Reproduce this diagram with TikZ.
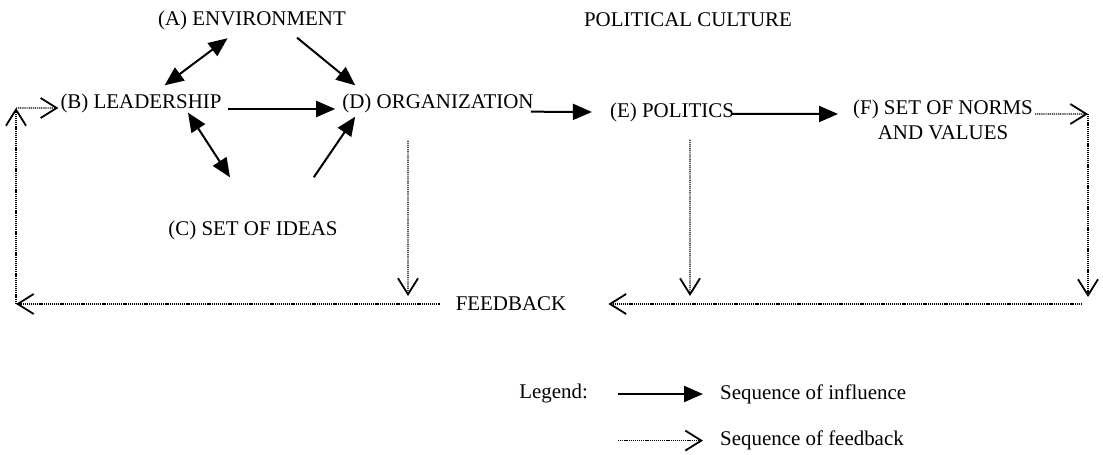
\documentclass[tikz,border=0pt]{standalone}
\usepackage{fontspec}
\setmainfont{Liberation Serif}
\usepackage{tikz}
\usetikzlibrary{arrows.meta,positioning}

\begin{document}
\begin{tikzpicture}[
	x=1bp, y=-1bp,
	font=\fontsize{21}{25}\selectfont,
	>={Triangle[length=19bp,width=16bp]},
	txt/.style={inner sep=2bp, align=center},
	infl/.style={->, line width=2bp},
	fb/.style={-{Straight Barb[length=16bp,width=20bp,line width=1.8bp]}, line width=1.3bp, dash pattern=on 1.2bp off 0.9bp},
]
\useasboundingbox (0,0) rectangle (1103,455);

\node[txt] (env)      at (252,20)  {(A) ENVIRONMENT};
\node[txt] (polcult)  at (688,20)  {POLITICAL CULTURE};
\node[txt] (lead)     at (141,103) {(B) LEADERSHIP};
\node[txt] (org)      at (438,103) {(D) ORGANIZATION};
\node[txt] (ideas)    at (253,230) {(C) SET OF IDEAS};
\node[txt] (politics) at (672,112) {(E) POLITICS};
\node[txt] (norms)    at (943,120) {(F) SET OF NORMS\\AND VALUES};
\node[txt] (fback)    at (511,304) {FEEDBACK};

% corners of the feedback loop
\coordinate (lt) at (16,108);
\coordinate (lb) at (16,304);
\coordinate (rt) at (1088,114);
\coordinate (rb) at (1088,304);
\coordinate (orgfb) at (408,304);
\coordinate (polfb) at (690,304);

\draw[infl, <->, shorten <=11bp, shorten >=10bp] (env) -- (lead);
\draw[infl] ([xshift=-51bp,yshift=-6bp]env.south east) -- ([xshift=15bp,yshift=6bp]org.north west);
\draw[infl] ([xshift=4bp,yshift=-6bp]lead.east) -- ([xshift=-5bp,yshift=-6bp]org.west);
\draw[infl, <->] ([xshift=47bp,yshift=2bp]lead.south) -- ([xshift=-23bp,yshift=41bp]ideas.north);
\draw[infl] ([xshift=-26bp,yshift=41bp]ideas.north east) -- ([xshift=15bp,yshift=-2bp]org.south west);
\draw[infl] ([xshift=-5bp,yshift=3bp]org.south east) -- ([xshift=-16bp]politics.west);
\draw[infl] ([xshift=-4bp,yshift=-2bp]politics.east) -- ([xshift=-13bp,yshift=6bp]norms.west);

\draw[fb] ([yshift=6bp]norms.east) -- (rt);
\draw[fb, shorten >=7bp] (rt) -- (rb);
\draw[fb, shorten <=6bp, shorten >=40bp] (rb) -- (fback.east);
\draw[fb, shorten >=8bp] ([xshift=18bp,yshift=-16bp]politics.south) -- (polfb);
\draw[fb, shorten >=8bp] ([xshift=-30bp,yshift=-26bp]org.south) -- (orgfb);
\draw[fb, shorten <=14bp] (fback.west) -- (lb);
\draw[fb] (lb) -- (lt);
\draw[fb] (lt) -- ([yshift=-5bp]lead.west);

% legend
\node[txt, anchor=west] (seqinf) at (718,394) {Sequence of influence};
\node[txt] (leg) [left=128bp of seqinf] {Legend:};
\node[txt] (seqfb) [below=23bp of seqinf.south west, anchor=north west] {Sequence of feedback};
\draw[infl] ([xshift=-100bp]seqinf.west) -- ([xshift=-15bp]seqinf.west);
\draw[fb] ([xshift=-100bp]seqfb.west) -- ([xshift=-15bp]seqfb.west);
\end{tikzpicture}
\end{document}
